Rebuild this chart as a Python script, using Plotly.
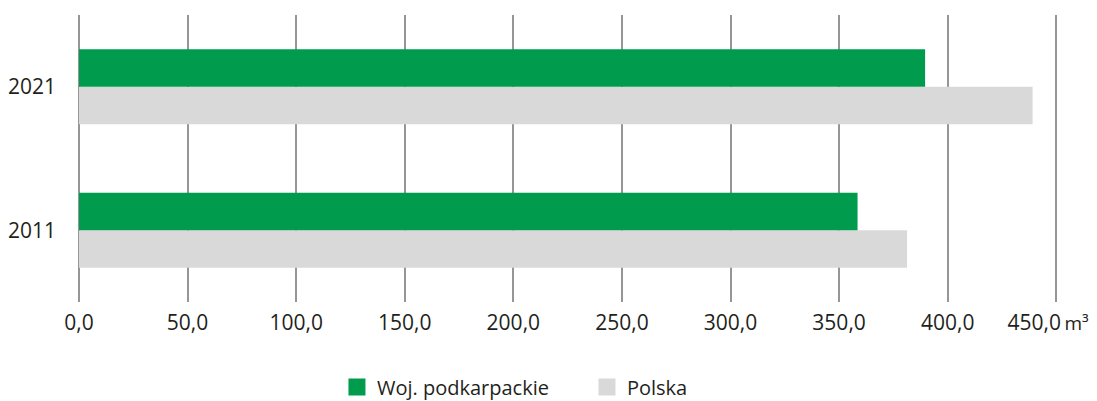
import plotly.graph_objects as go

years = ["2011", "2021"]
podkarpackie = [358.5, 389.6]
polska = [381.3, 439.1]
tick_vals = [0, 50, 100, 150, 200, 250, 300, 350, 400, 450]
# trailing no-break spaces nudge the last label left so the unit is not clipped
tick_text = ["0,0", "50,0", "100,0", "150,0", "200,0", "250,0", "300,0", "350,0", "400,0",
             "450,0\u2009<span style='font-size:19px'>m³</span>\u00a0\u00a0\u00a0"]

GREEN = "#009b4c"
GREY = "#d9d9d9"
GRID = "#969696"
TEXT = "#231f20"

fig = go.Figure()
# Polska first so it sits below the green bar in each group
fig.add_trace(go.Bar(name="Polska", y=years, x=polska, orientation="h", offsetgroup="pl",
                     marker=dict(color=GREY, line=dict(width=0)), showlegend=False))
fig.add_trace(go.Bar(name="Woj. podkarpackie", y=years, x=podkarpackie, orientation="h",
                     offsetgroup="pk", marker=dict(color=GREEN, line=dict(width=0)),
                     showlegend=False))

# legend-only entries, thick outline gives the bigger square swatch
fig.add_trace(go.Bar(name="Polska", y=[None], x=[None], orientation="h", offsetgroup="pl",
                     marker=dict(color=GREY, line=dict(color=GREY, width=11))))
fig.add_trace(go.Bar(name="Woj. podkarpackie", y=[None], x=[None], orientation="h",
                     offsetgroup="pk", marker=dict(color=GREEN, line=dict(color=GREEN, width=11))))

# page body has an 8px margin, so the figure is 8px smaller each way
fig.update_layout(
    width=1089, height=393,
    margin=dict(l=71, r=39, t=7, b=99, autoexpand=False),
    paper_bgcolor="white", plot_bgcolor="white",
    font=dict(family="Open Sans", size=21, color=TEXT),
    barmode="group", bargap=0.477, bargroupgap=0,
    legend=dict(orientation="h", traceorder="reversed",
                x=0.2635, xanchor="left", y=-0.296, yanchor="middle",
                font=dict(size=20, color=TEXT),
                entrywidth=205, itemclick=False),
    showlegend=True,
)
fig.update_xaxes(range=[0, 450.8], tickvals=tick_vals, ticktext=tick_text,
                 showgrid=True, gridcolor=GRID, gridwidth=2,
                 zeroline=True, zerolinecolor=GRID, zerolinewidth=2,
                 showline=False, ticks="", ticklabelstandoff=6, automargin=False,
                 ticklabeloverflow="allow")
fig.update_yaxes(type="category", categoryorder="array", categoryarray=years,
                 showgrid=False, zeroline=False, showline=False,
                 ticks="", ticklabelstandoff=22, automargin=False)

fig.write_html("out.html")
